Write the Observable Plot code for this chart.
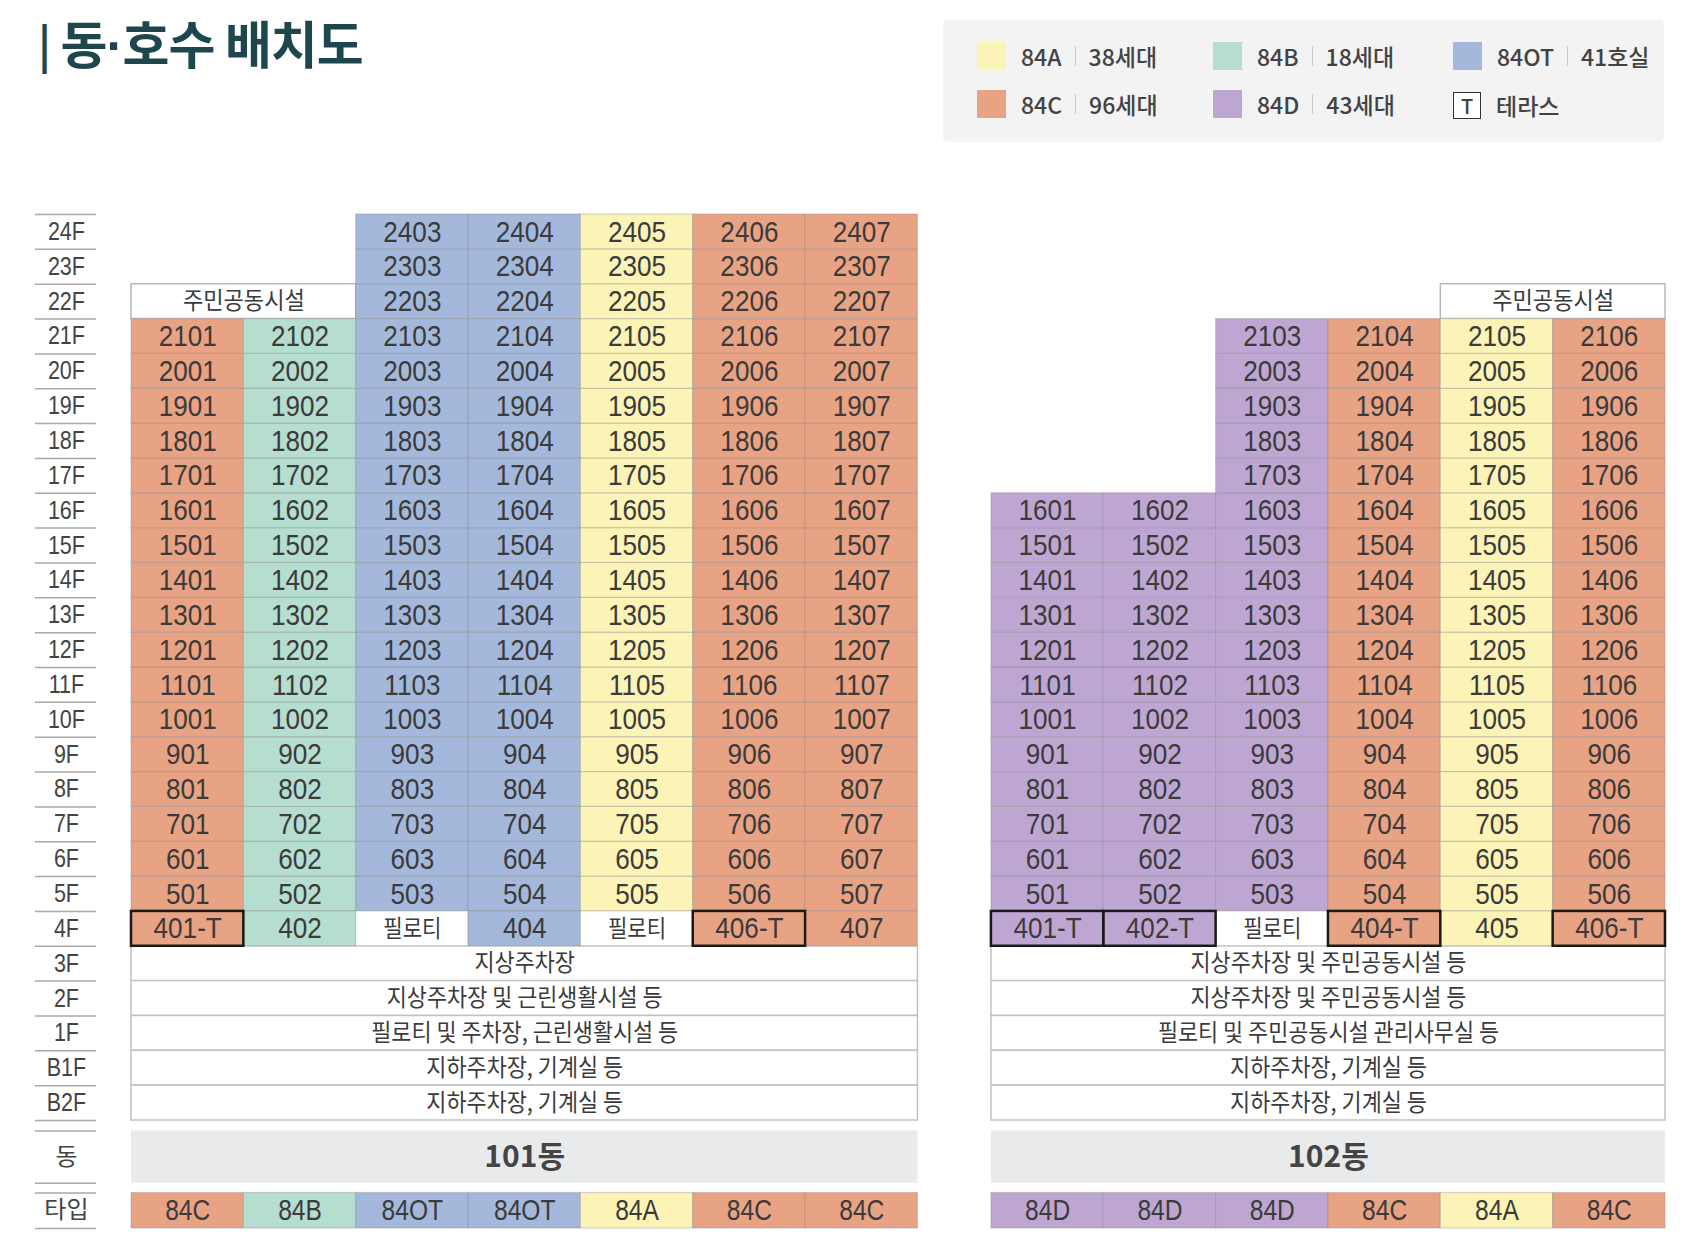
<!DOCTYPE html>
<html>
<head>
<meta charset="utf-8">
<script src="https://cdn.jsdelivr.net/npm/d3@7"></script>
<script src="https://cdn.jsdelivr.net/npm/@observablehq/plot@0.6"></script>
<style>
  body { margin: 0; background: #fff; font-family: "Noto Sans CJK KR", "Noto Sans", sans-serif; }
  #wrap { position: relative; width: 1690px; }
  #header { position: relative; height: 190px; }
  #title { position: absolute; left: 38px; top: 10px; margin: 0; font-size: 51px; line-height: 64px; font-weight: 700; color: #1d474c; letter-spacing: -1px; }
  #title .dot { font-family: "Liberation Sans", sans-serif; }
  #title .bar { font-size: 44px; vertical-align: 3px; }
  #legend { position: absolute; left: 943px; top: 20px; width: 721px; height: 122px; background: #f3f3f3; border-radius: 5px; }
  .item { position: absolute; height: 28px; display: flex; align-items: center; font-size: 23px; font-weight: 500; color: #434343; white-space: nowrap; }
  .sw { width: 29px; height: 28px; flex: none; }
  .tbox { width: 26px; height: 25px; border: 1.5px solid #333; background: #fff; display: flex; align-items: center; justify-content: center; font-size: 20px; flex: none; }
  .lab { margin-left: 15px; display: inline-block; }
  .sep { margin: 0 13px; width: 1px; height: 20px; background: #c8c8c8; flex: none; }
  #chart svg { display: block; }
</style>
</head>
<body>
<div id="wrap">
  <div id="header">
    <h1 id="title"><span class="bar">|</span> 동<span class="dot">·</span>호수 배치도</h1>
    <div id="legend"></div>
  </div>
  <div id="chart"></div>
</div>
<script>
// ---------- data ----------
const unitTypes   = ["84A", "84B", "84OT", "84C", "84D"];
const typeColors  = ["#fcf3b7", "#b5ddd0", "#a3b8da", "#e8a284", "#bea6d3"];
const typeCounts  = ["38세대", "18세대", "41호실", "96세대", "43세대"];
const terraceLabel = "테라스";

const floorLabels = ["24F","23F","22F","21F","20F","19F","18F","17F","16F","15F","14F","13F","12F","11F","10F","9F","8F","7F","6F","5F","4F","3F","2F","1F","B1F","B2F"];

// 101동
const b101Name = "101동";
const b101Types = ["84C", "84B", "84OT", "84OT", "84A", "84C", "84C"];
const b101TopFloor = [21, 21, 24, 24, 24, 24, 24];
const b101Fourth = ["401-T", "402", "필로티", "404", "필로티", "406-T", "407"];
const b101AmenityCols = [0, 1];       // 주민공동시설 on 22F
const b101Facilities = ["지상주차장", "지상주차장 및 근린생활시설 등", "필로티 및 주차장, 근린생활시설 등", "지하주차장, 기계실 등", "지하주차장, 기계실 등"];

// 102동
const b102Name = "102동";
const b102Types = ["84D", "84D", "84D", "84C", "84A", "84C"];
const b102TopFloor = [16, 16, 21, 21, 21, 21];
const b102Fourth = ["401-T", "402-T", "필로티", "404-T", "405", "406-T"];
const b102AmenityCols = [4, 5];       // 주민공동시설 on 22F
const b102Facilities = ["지상주차장 및 주민공동시설 등", "지상주차장 및 주민공동시설 등", "필로티 및 주민공동시설 관리사무실 등", "지하주차장, 기계실 등", "지하주차장, 기계실 등"];

const amenityLabel = "주민공동시설";
const pilotiLabel = "필로티";
const facilityFloors = ["3F", "2F", "1F", "B1F", "B2F"];
const sideLabels = ["동", "타입"];

// ---------- legend (HTML) ----------
const legend = document.getElementById("legend");
const legendOrder = [["84A", 34, 22], ["84B", 270, 22], ["84OT", 510, 22], ["84C", 34, 70], ["84D", 270, 70]];
legendOrder.forEach(([t, lx, ly]) => {
  const i = unitTypes.indexOf(t);
  const it = document.createElement("div");
  it.className = "item";
  it.style.left = lx + "px"; it.style.top = ly + "px";
  it.innerHTML = `<div class="sw" style="background:${typeColors[i]}"></div><span class="lab">${t}</span><div class="sep"></div><span>${typeCounts[i]}</span>`;
  legend.appendChild(it);
});
{
  const it = document.createElement("div");
  it.className = "item";
  it.style.left = "510px"; it.style.top = "71px";
  it.innerHTML = `<div class="tbox">T</div><span class="lab">${terraceLabel}</span>`;
  legend.appendChild(it);
}

// ---------- build tables ----------
const gap = 0.654;
const buildings = [
  {name: b101Name, types: b101Types, top: b101TopFloor, fourth: b101Fourth, amenity: b101AmenityCols, fac: b101Facilities, off: 0},
  {name: b102Name, types: b102Types, top: b102TopFloor, fourth: b102Fourth, amenity: b102AmenityCols, fac: b102Facilities, off: b101Types.length + gap}
];
const totalUnits = b101Types.length + gap + b102Types.length;
const row = lab => floorLabels.indexOf(lab);

const cells = [], amen = [], facs = [], bands = [], typeRow = [];
const bandY = [26.3, 27.8], typeY = [28.08, 29.1];
for (const b of buildings) {
  const n = b.types.length;
  b.types.forEach((t, k) => {
    for (let f = 5; f <= b.top[k]; f++) {
      const r = row(f + "F");
      cells.push({x1: b.off + k, x2: b.off + k + 1, y1: r, y2: r + 1, type: t, label: String(f * 100 + k + 1)});
    }
    const lab = b.fourth[k], r4 = row("4F");
    cells.push({x1: b.off + k, x2: b.off + k + 1, y1: r4, y2: r4 + 1, type: lab === pilotiLabel ? "none" : t, label: lab, terrace: lab.endsWith("-T")});
    typeRow.push({x1: b.off + k, x2: b.off + k + 1, y1: typeY[0], y2: typeY[1], type: t, label: t});
  });
  const r22 = row("22F");
  amen.push({x1: b.off + b.amenity[0], x2: b.off + b.amenity[1] + 1, y1: r22, y2: r22 + 1, label: amenityLabel});
  facilityFloors.forEach((fl, j) => {
    const r = row(fl);
    facs.push({x1: b.off, x2: b.off + n, y1: r, y2: r + 1, label: b.fac[j]});
  });
  bands.push({x1: b.off, x2: b.off + n, y1: bandY[0], y2: bandY[1], label: b.name});
}
const sideX = -0.579, sideX1 = -0.855, sideX2 = -0.31;
const floorText = floorLabels.map((l, i) => ({y: i + 0.5, label: l}));
const sideText = [{y: (bandY[0] + bandY[1]) / 2, label: sideLabels[0]}, {y: (typeY[0] + typeY[1]) / 2, label: sideLabels[1]}];
const sideRules = d3.range(0, floorLabels.length + 1).concat([bandY[0], bandY[1], typeY[0], typeY[1]]);

const cx = d => (d.x1 + d.x2) / 2, cy = d => (d.y1 + d.y2) / 2;
const CJK = "Noto Sans CJK KR";
const LAT = "Liberation Sans";
const numCells = cells.filter(d => d.label !== pilotiLabel);
const pilotiCells = cells.filter(d => d.label === pilotiLabel);

const chart = Plot.plot({
  width: 1690,
  height: 1048,
  margin: 0,
  style: {fontFamily: CJK, background: "transparent", color: "#3b3b3b"},
  x: {type: "linear", domain: [0, totalUnits], range: [131, 1665], axis: null},
  y: {type: "linear", domain: [0, floorLabels.length], range: [24, 930], axis: null},
  color: {domain: unitTypes.concat(["none"]), range: typeColors.concat(["#ffffff"])},
  marks: [
    // floor label column
    Plot.ruleY(sideRules, {x1: sideX1, x2: sideX2, stroke: "#a9a9a9", strokeWidth: 1.5}),
    Plot.text(floorText, {x: sideX, y: "y", text: "label", fontSize: 25, fontFamily: LAT, fill: "#444", ariaDescription: "floors"}),
    Plot.text(sideText, {x: sideX, y: "y", text: "label", fontSize: 24, fill: "#444", ariaDescription: "side"}),
    // facility rows
    Plot.rect(facs, {x1: "x1", x2: "x2", y1: "y1", y2: "y2", fill: "#fff", stroke: "#c2c2c2", strokeWidth: 1.5}),
    Plot.text(facs, {x: cx, y: cy, text: "label", fontSize: 24, fill: "#3b3b3b", ariaDescription: "facilities"}),
    // amenity on 22F
    Plot.rect(amen, {x1: "x1", x2: "x2", y1: "y1", y2: "y2", fill: "#fff", stroke: "#b8b8b8", strokeWidth: 1.5}),
    Plot.text(amen, {x: cx, y: cy, text: "label", fontSize: 24, fill: "#3b3b3b", ariaDescription: "amenity"}),
    // unit cells
    Plot.rect(cells, {x1: "x1", x2: "x2", y1: "y1", y2: "y2", fill: "type", stroke: "#8a8a8a", strokeOpacity: 0.35, strokeWidth: 1.2}),
    Plot.rect(cells.filter(d => d.terrace), {x1: "x1", x2: "x2", y1: "y1", y2: "y2", fill: "none", stroke: "#1a1a1a", strokeWidth: 2.5}),
    Plot.text(numCells, {x: cx, y: cy, text: "label", fontSize: 30, fontFamily: LAT, fill: "#3b3b3b", ariaDescription: "units"}),
    Plot.text(pilotiCells, {x: cx, y: cy, text: "label", fontSize: 24, fill: "#3b3b3b", ariaDescription: "piloti"}),
    // building band
    Plot.rect(bands, {x1: "x1", x2: "x2", y1: "y1", y2: "y2", fill: "#e9eaec"}),
    Plot.text(bands, {x: cx, y: cy, text: "label", fontSize: 30, fontWeight: "bold", fill: "#444", ariaDescription: "buildings"}),
    // type row
    Plot.rect(typeRow, {x1: "x1", x2: "x2", y1: "y1", y2: "y2", fill: "type", stroke: "#8a8a8a", strokeOpacity: 0.35, strokeWidth: 1.2}),
    Plot.text(typeRow, {x: cx, y: cy, text: "label", fontSize: 30, fontFamily: LAT, fill: "#3b3b3b", ariaDescription: "types"})
  ]
});
document.getElementById("chart").appendChild(chart);

// condense glyphs to mimic the narrow typeface of the original
const condense = {units: 0.87, types: 0.82, floors: 0.86, facilities: 0.91, amenity: 0.92, piloti: 0.88};
chart.querySelectorAll("text").forEach(t => {
  const g = t.closest("g[aria-description]");
  const f = g ? condense[g.getAttribute("aria-description")] : null;
  if (f) {
    const L = t.getComputedTextLength();
    t.setAttribute("textLength", (L * f).toFixed(1));
    t.setAttribute("lengthAdjust", "spacingAndGlyphs");
  }
});
</script>
</body>
</html>
